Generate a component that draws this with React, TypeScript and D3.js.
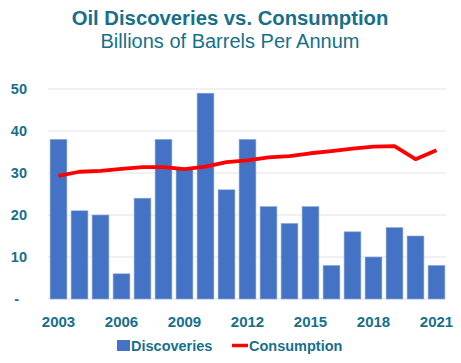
import React from 'react';
import * as d3 from 'd3';

const years = [2003, 2004, 2005, 2006, 2007, 2008, 2009, 2010, 2011, 2012, 2013, 2014, 2015, 2016, 2017, 2018, 2019, 2020, 2021];
const discoveries = [38, 21, 20, 6, 24, 38, 31, 49, 26, 38, 22, 18, 22, 8, 16, 10, 17, 15, 8];
const consumption = [29.3, 30.3, 30.5, 31.0, 31.4, 31.4, 30.9, 31.5, 32.6, 33.0, 33.7, 34.0, 34.7, 35.2, 35.8, 36.3, 36.4, 33.3, 35.4];
const yTicks = [0, 10, 20, 30, 40, 50];
const labelYears = [2003, 2006, 2009, 2012, 2015, 2018, 2021];

const teal = '#17708a';
const font = '"Liberation Sans", Arial, sans-serif';

export default function App() {
  const W = 461;
  const H = 363;
  const x = d3.scaleBand<number>().domain(years).range([48, 447]).paddingInner(0.2).paddingOuter(0.1);
  const y = d3.scaleLinear().domain([0, 50]).range([299, 89]);
  const line = d3
    .line<number>()
    .x((_, i) => x(years[i])! + x.bandwidth() / 2)
    .y((d) => y(d));

  return (
    <svg width={W} height={H} style={{ position: 'absolute', left: 0, top: 0 }} fontFamily={font}>
      <rect width={W} height={H} fill="#fff" />
      <text x={230} y={25} textAnchor="middle" fontSize={20.3} fontWeight="bold" fill={teal}>
        Oil Discoveries vs. Consumption
      </text>
      <text x={230} y={48} textAnchor="middle" fontSize={20} fill={teal}>
        Billions of Barrels Per Annum
      </text>

      {yTicks.map((t) => (
        <g key={t}>
          <line x1={48} x2={446} y1={y(t)} y2={y(t)} stroke="#ececec" strokeWidth={1.3} />
          <text x={t === 0 ? 19 : 27} y={y(t) + 5} textAnchor="end" fontSize={14.5} fontWeight="bold" fill={teal}>
            {t === 0 ? '-' : t}
          </text>
        </g>
      ))}

      {discoveries.map((d, i) => (
        <rect
          key={years[i]}
          x={x(years[i])}
          y={y(d)}
          width={x.bandwidth()}
          height={y(0) - y(d)}
          fill="#4472c4"
          stroke="#8faadc"
          strokeWidth={0.6}
        />
      ))}

      <path d={line(consumption) ?? ''} fill="none" stroke="#ff0000" strokeWidth={3.8} strokeLinejoin="round" />

      {labelYears.map((yr) => (
        <text key={yr} x={x(yr)! + x.bandwidth() / 2} y={327} textAnchor="middle" fontSize={15} fontWeight="bold" fill={teal}>
          {yr}
        </text>
      ))}

      <rect x={117} y={340} width={13} height={11} fill="#4472c4" />
      <text x={131} y={351} fontSize={14.5} fontWeight="bold" fill={teal}>
        Discoveries
      </text>
      <line x1={232} x2={248} y1={345.5} y2={345.5} stroke="#ff0000" strokeWidth={3.5} />
      <text x={249} y={351} fontSize={14.5} fontWeight="bold" fill={teal}>
        Consumption
      </text>
    </svg>
  );
}
